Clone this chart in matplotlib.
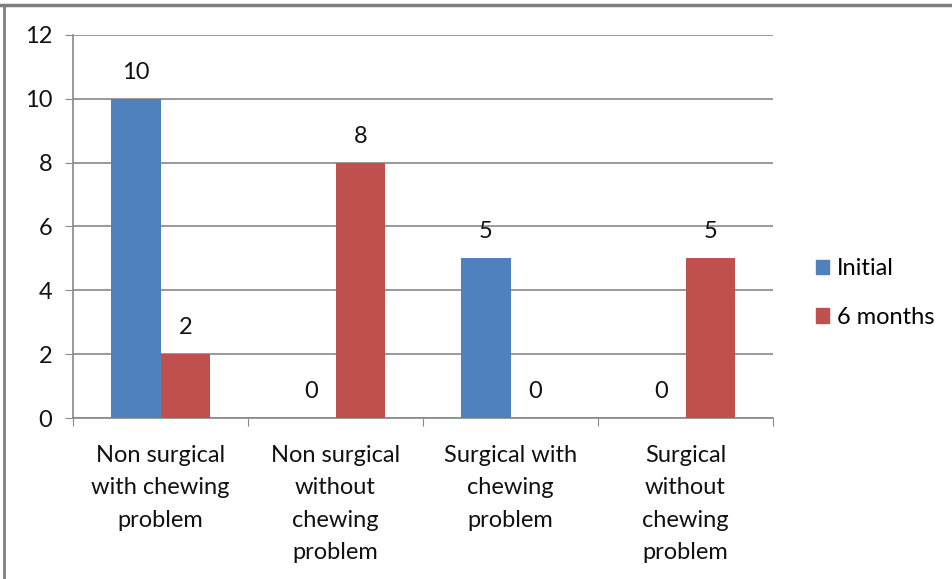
import matplotlib.pyplot as plt
import matplotlib.patches as mpatches
import numpy as np

plt.rcParams['font.family'] = ['Lato', 'DejaVu Sans']

categories = ['Non surgical\nwith chewing\nproblem',
              'Non surgical\nwithout\nchewing\nproblem',
              'Surgical with\nchewing\nproblem',
              'Surgical\nwithout\nchewing\nproblem']
initial = [10, 0, 5, 0]
six_months = [2, 8, 0, 5]
series_names = ['Initial', '6 months']

blue = '#4F81BD'
red = '#C0504D'
grid_col = '#888888'
txt_col = '#111111'
fs = 17

fig = plt.figure(figsize=(9.52, 5.79), dpi=100)
ax = fig.add_axes([0.0767, 0.278, 0.7353, 0.6618])

x = np.arange(len(categories))
w = 0.284
b1 = ax.bar(x - w / 2, initial, w, color=blue, label=series_names[0], zorder=3)
b2 = ax.bar(x + w / 2, six_months, w, color=red, label=series_names[1], zorder=3)

for bars, vals in ((b1, initial), (b2, six_months)):
    for bar, v in zip(bars, vals):
        ax.annotate(str(v), (bar.get_x() + bar.get_width() / 2, v),
                    xytext=(0, 19), textcoords='offset points',
                    ha='center', va='center', fontsize=fs, color=txt_col)

ax.set_xlim(-0.5, len(categories) - 0.5)
ax.set_ylim(0, 12)
ax.set_yticks(range(0, 13, 2))
ax.yaxis.grid(True, color=grid_col, linewidth=1.2, zorder=0)
ax.tick_params(axis='y', length=5.8, color=grid_col, labelsize=fs, pad=9, labelcolor=txt_col)

ax.set_xticks(np.arange(-0.5, len(categories), 1.0))
ax.set_xticklabels([])
ax.tick_params(axis='x', length=5.8, color=grid_col, direction='out')
ax.set_xticks(x, minor=True)
ax.set_xticklabels(categories, minor=True, fontsize=fs, linespacing=1.66,
                   va='top', color=txt_col)
ax.tick_params(axis='x', which='minor', length=0, pad=19.5)

for side in ('top', 'right'):
    ax.spines[side].set_visible(False)
ax.spines['left'].set_color(grid_col)
ax.spines['bottom'].set_color(grid_col)
ax.spines['left'].set_linewidth(1.2)
ax.spines['bottom'].set_linewidth(1.2)

handles = [mpatches.Patch(color=blue), mpatches.Patch(color=red)]
fig.legend(handles, series_names, loc='center left', bbox_to_anchor=(0.857, 0.494),
           frameon=False, fontsize=fs, handlelength=0.55, handleheight=0.55,
           handletextpad=0.35, labelspacing=1.18, borderaxespad=0, borderpad=0)

# page frame lines
fig.add_artist(plt.Line2D([0.0, 1.0], [1 - 5 / 579, 1 - 5 / 579], color='#7f7f7f', linewidth=2.5))
fig.add_artist(plt.Line2D([4 / 952, 4 / 952], [0, 1 - 5 / 579], color='#7f7f7f', linewidth=2))

fig.savefig('out.png', dpi=100)
